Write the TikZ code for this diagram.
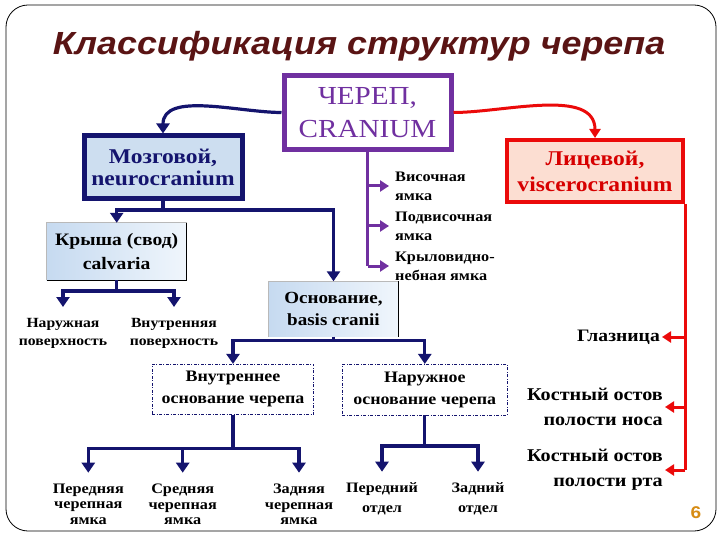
\documentclass[tikz,border=0pt]{standalone}
\usepackage{fontspec}
\setmainfont{Liberation Serif}[FakeStretch=1.12]
\newfontfamily\titlefont{Liberation Sans}[FakeStretch=1.12]
\usetikzlibrary{arrows.meta}
\definecolor{cNavy}{RGB}{20,20,110}
\definecolor{cPurp}{RGB}{112,48,160}
\definecolor{cRed}{RGB}{235,10,10}
\definecolor{cRedTxt}{RGB}{215,0,0}
\definecolor{cTitle}{RGB}{90,20,20}
\definecolor{cMoz}{RGB}{205,222,240}
\definecolor{cLic}{RGB}{252,222,210}
\definecolor{cKrL}{RGB}{198,218,240}
\definecolor{cKrR}{RGB}{240,246,252}
\definecolor{cOrange}{RGB}{215,140,20}
\tikzset{
  box/.style={inner sep=0pt, align=center, anchor=center},
  navyline/.style={draw=cNavy, line width=3.2pt},
  navyarr/.style={navyline, -{Triangle[width=13pt,length=10pt]}},
  purpline/.style={draw=cPurp, line width=3pt},
  purparr/.style={purpline, -{Triangle[width=11pt,length=9pt]}},
  redline/.style={draw=cRed, line width=3pt},
  redarr/.style={redline, -{Triangle[width=11pt,length=9pt]}},
  gradbox/.style={box, left color=cKrL, right color=cKrR},
  dashbox/.style={box, draw=cNavy, line width=0.8pt, dash pattern=on 3pt off 1.5pt on 1pt off 1.5pt},
  lblN/.style={align=center, inner xsep=0pt, inner ysep=11pt, anchor=north},
}
\begin{document}
\begin{tikzpicture}[x=1pt,y=-1pt]
\useasboundingbox (0,0) rectangle (720,540);
\fill[white] (0,0) rectangle (720,540);
\draw[line width=0.8pt, rounded corners=22pt] (6,5) rectangle (716,531);

% title
\node[font=\titlefont\bfseries\itshape\fontsize{32}{32}\selectfont, text=cTitle, anchor=base, inner sep=0pt] (title) at (359,55) {Классификация структур черепа};

% main boxes
\node[box, draw=cPurp, line width=5pt, minimum width=167pt, minimum height=74pt, text=cPurp,
      font=\fontsize{26}{33}\selectfont] (cran) at (367.5,112.5) {ЧЕРЕП,\\CRANIUM};
\node[box, draw=cNavy, line width=5pt, fill=cMoz, minimum width=158pt, minimum height=63pt, text=cNavy,
      font=\bfseries\fontsize{21}{22}\selectfont] (mozg) at (163,167.5) {Мозговой,\\neurocranium};
\node[box, draw=cRed, line width=4pt, fill=cLic, minimum width=176pt, minimum height=62pt, text=cRedTxt,
      font=\bfseries\fontsize{21}{26}\selectfont] (lic) at (595,171) {Лицевой,\\viscerocranium};

\node[gradbox, minimum width=140pt, minimum height=57pt,
      font=\bfseries\fontsize{17.5}{23.4}\selectfont] (kr) at (116.7,251.5) {Крыша (свод)\\calvaria};
\draw[gray!55, line width=0.8pt] (kr.south west) -- (kr.north west) -- (kr.north east);
\draw[black, line width=1pt] (kr.north east) -- (kr.south east) -- (kr.south west);

\node[gradbox, minimum width=129pt, minimum height=55pt,
      font=\bfseries\fontsize{17}{22.3}\selectfont] (osn) at (333.5,309) {Основание,\\basis cranii};
\draw[gray!55, line width=0.8pt] (osn.south west) -- (osn.north west) -- (osn.north east);
\draw[black, line width=1pt] (osn.north east) -- (osn.south east);

\node[dashbox, minimum width=161.7pt, minimum height=50pt,
      font=\bfseries\fontsize{16}{21.7}\selectfont] (vn) at (233,389.3) {Внутреннее\\основание черепа};
\node[dashbox, minimum width=165pt, minimum height=50.7pt,
      font=\bfseries\fontsize{16}{21.7}\selectfont] (nr) at (424.8,389.7) {Наружное\\основание черепа};

% curved arrows from cranium
\draw[navyarr] (cran.west) to[out=180, in=90, looseness=0.9] (mozg.north);
\draw[redarr] (cran.east) to[out=0, in=90, looseness=0.9] (lic.north);

% purple branch
\begin{scope}[every node/.style={align=left, anchor=west, inner xsep=6pt, inner ysep=0pt,
      font=\bfseries\fontsize{14.5}{19}\selectfont}]
\node (f1) at (389,186) {Височная\\ямка};
\node (f2) at (389,226) {Подвисочная\\ямка};
\node (f3) at (389,266) {Крыловидно-\\небная ямка};
\end{scope}
\draw[purpline] (cran.south) -- (cran.south |- f3.west);
\draw[purparr] (cran.south |- f1.west) -- (f1.west);
\draw[purparr] (cran.south |- f2.west) -- (f2.west);
\draw[purparr] (cran.south |- f3.west) -- (f3.west);

% neurocranium tree
\coordinate (j1) at (163,210);
\draw[navyline] (mozg.south) -- (j1);
\draw[navyarr] (j1) -| (kr.north);
\draw[navyarr] (j1) -| (osn.north);

\node[lblN, font=\bfseries\fontsize{14}{18}\selectfont] (nar) at (63,307) {Наружная\\поверхность};
\node[lblN, font=\bfseries\fontsize{14}{18}\selectfont] (vnp) at (174,307) {Внутренняя\\поверхность};
\coordinate (j2) at (116.7,291);
\draw[navyline] (kr.south) -- (j2);
\draw[navyarr] (j2) -| (nar.north);
\draw[navyarr] (j2) -| (vnp.north);

\coordinate (j3) at (333.5,340.7);
\draw[navyline] (osn.south) -- (j3);
\draw[navyarr] (j3) -| (vn.north);
\draw[navyarr] (j3) -| (nr.north);

\begin{scope}[every node/.style={lblN, font=\bfseries\fontsize{14.5}{15.5}\selectfont}]
\node (pf) at (88.3,472.7) {Передняя\\черепная\\ямка};
\node (sf) at (182.7,472.7) {Средняя\\черепная\\ямка};
\node (zf) at (299,472.7) {Задняя\\черепная\\ямка};
\end{scope}
\coordinate (j4) at (233,448.3);
\draw[navyline] (vn.south) -- (j4);
\draw[navyarr] (j4) -| (pf.north);
\draw[navyarr] (j4) -| (sf.north);
\draw[navyarr] (j4) -| (zf.north);

\begin{scope}[every node/.style={lblN, font=\bfseries\fontsize{14.4}{20}\selectfont}]
\node (po) at (382,471.7) {Передний\\отдел};
\node (zo) at (478,471.7) {Задний\\отдел};
\end{scope}
\coordinate (j5) at (424.8,446);
\draw[navyline] (nr.south) -- (j5);
\draw[navyarr] (j5) -| (po.north);
\draw[navyarr] (j5) -| (zo.north);

% viscerocranium branch
\begin{scope}[every node/.style={align=right, anchor=east, inner xsep=2pt, inner ysep=0pt,
      font=\bfseries\fontsize{18}{25}\selectfont}]
\node[font=\bfseries\fontsize{17.5}{20}\selectfont] (glaz) at (662,337) {Глазница};
\node (nos) at (665,407) {Костный остов\\полости носа};
\node (rot) at (665,470) {Костный остов\\полости рта};
\end{scope}
\draw[redline] (lic.south east) -- (lic.south east |- rot.east);
\draw[redarr] (lic.south east |- glaz.east) -- (glaz.east);
\draw[redarr] (lic.south east |- nos.east) -- (nos.east);
\draw[redarr] (lic.south east |- rot.east) -- (rot.east);

\node[font=\titlefont\bfseries\fontsize{17}{17}\selectfont, text=cOrange] (pg) at (696,513) {6};
\end{tikzpicture}
\end{document}
